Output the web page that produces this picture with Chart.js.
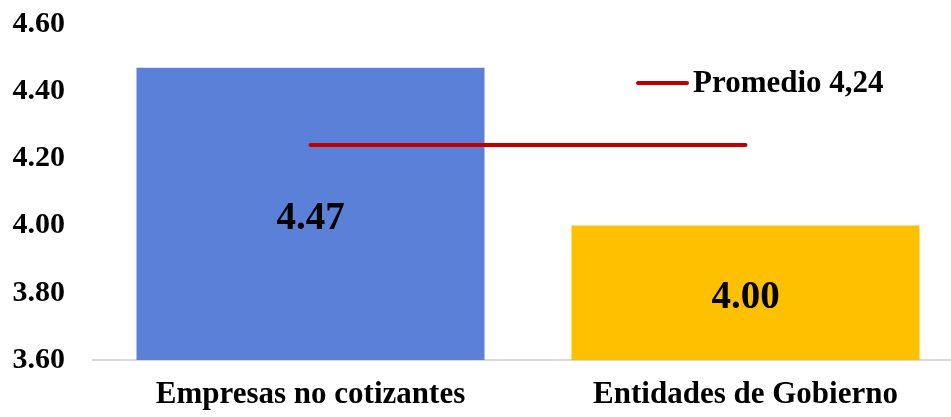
<!DOCTYPE html>
<html>
<head>
<meta charset="utf-8">
<script src="https://cdn.jsdelivr.net/npm/chart.js@4"></script>
<style>
  html, body { margin: 0; padding: 0; background: #fff; overflow: hidden; }
  #wrap { width: 963px; height: 417px; }
</style>
</head>
<body>
<div id="wrap"><canvas id="chart" width="963" height="417"></canvas></div>
<script>
// -----------------------
// Data
// -----------------------
const categories = ['Empresas no cotizantes', 'Entidades de Gobierno'];
const scores = [4.47, 4.00];
const barColors = ['#5B80D7', '#FFC000'];
const average = [4.24, 4.24];
const averageLabel = 'Promedio 4,24';
const yTicks = [3.60, 3.80, 4.00, 4.20, 4.40, 4.60];

const FONT = '"Liberation Serif", "Times New Roman", serif';
const BAR_DATASET = 1;

// -----------------------
// Labels inside the bars
// -----------------------
const barLabels = {
  id: 'barLabels',
  afterDraw(chart) {
    const ctx = chart.ctx;
    const meta = chart.getDatasetMeta(BAR_DATASET);
    const yScale = chart.scales.y;
    const bottom = chart.chartArea.bottom;
    ctx.save();
    ctx.font = `bold 39px ${FONT}`;
    ctx.fillStyle = '#000';
    ctx.textAlign = 'center';
    ctx.textBaseline = 'middle';
    meta.data.forEach((bar, i) => {
      const top = yScale.getPixelForValue(scores[i]);
      const mid = (top + bottom) / 2;
      ctx.fillText(scores[i].toFixed(2), bar.x, mid + 5);
    });
    ctx.restore();
  }
};

// -----------------------
// Legend for the average line
// -----------------------
const avgLegend = {
  id: 'avgLegend',
  afterDraw(chart) {
    const ctx = chart.ctx;
    const y = 83;
    ctx.save();
    ctx.strokeStyle = '#C00000';
    ctx.lineWidth = 4;
    ctx.lineCap = 'round';
    ctx.beginPath();
    ctx.moveTo(638, y);
    ctx.lineTo(687, y);
    ctx.stroke();
    ctx.font = `bold 31px ${FONT}`;
    ctx.fillStyle = '#000';
    ctx.textAlign = 'left';
    ctx.textBaseline = 'middle';
    ctx.fillText(averageLabel, 693, y + 1);
    ctx.restore();
  }
};

new Chart(document.getElementById('chart'), {
  data: {
    labels: categories,
    datasets: [
      {
        type: 'line',
        label: averageLabel,
        data: average,
        borderColor: '#C00000',
        borderWidth: 4,
        borderCapStyle: 'round',
        pointRadius: 0,
        fill: false,
        order: 0
      },
      {
        type: 'bar',
        label: 'Puntaje',
        data: scores,
        backgroundColor: barColors,
        barPercentage: 0.8,
        categoryPercentage: 1.0,
        order: 1
      }
    ]
  },
  options: {
    responsive: false,
    animation: false,
    layout: { padding: { top: 24, right: 0, bottom: 0, left: 0 } },
    plugins: {
      legend: { display: false },
      tooltip: { enabled: false }
    },
    scales: {
      x: {
        offset: true,
        afterFit(scale) {
          scale.height = 57;
          scale.paddingLeft = 0;
          scale.paddingRight = 0;
        },
        grid: { display: false, drawTicks: false },
        border: { display: true, color: '#D9D9D9', width: 2 },
        ticks: {
          color: '#000',
          padding: 16,
          maxRotation: 0,
          font: { family: FONT, size: 31, weight: 'bold' }
        }
      },
      y: {
        min: 3.6,
        max: 4.6,
        afterFit(scale) {
          scale.width = 93;
          scale.paddingTop = 0;
          scale.paddingBottom = 0;
        },
        afterBuildTicks(scale) { scale.ticks = yTicks.map(v => ({ value: v })); },
        grid: { display: false, drawTicks: false },
        border: { display: false },
        ticks: {
          color: '#000',
          padding: 28,
          callback: v => Number(v).toFixed(2),
          font: { family: FONT, size: 30, weight: 'bold' }
        }
      }
    }
  },
  plugins: [barLabels, avgLegend]
});
</script>
</body>
</html>
